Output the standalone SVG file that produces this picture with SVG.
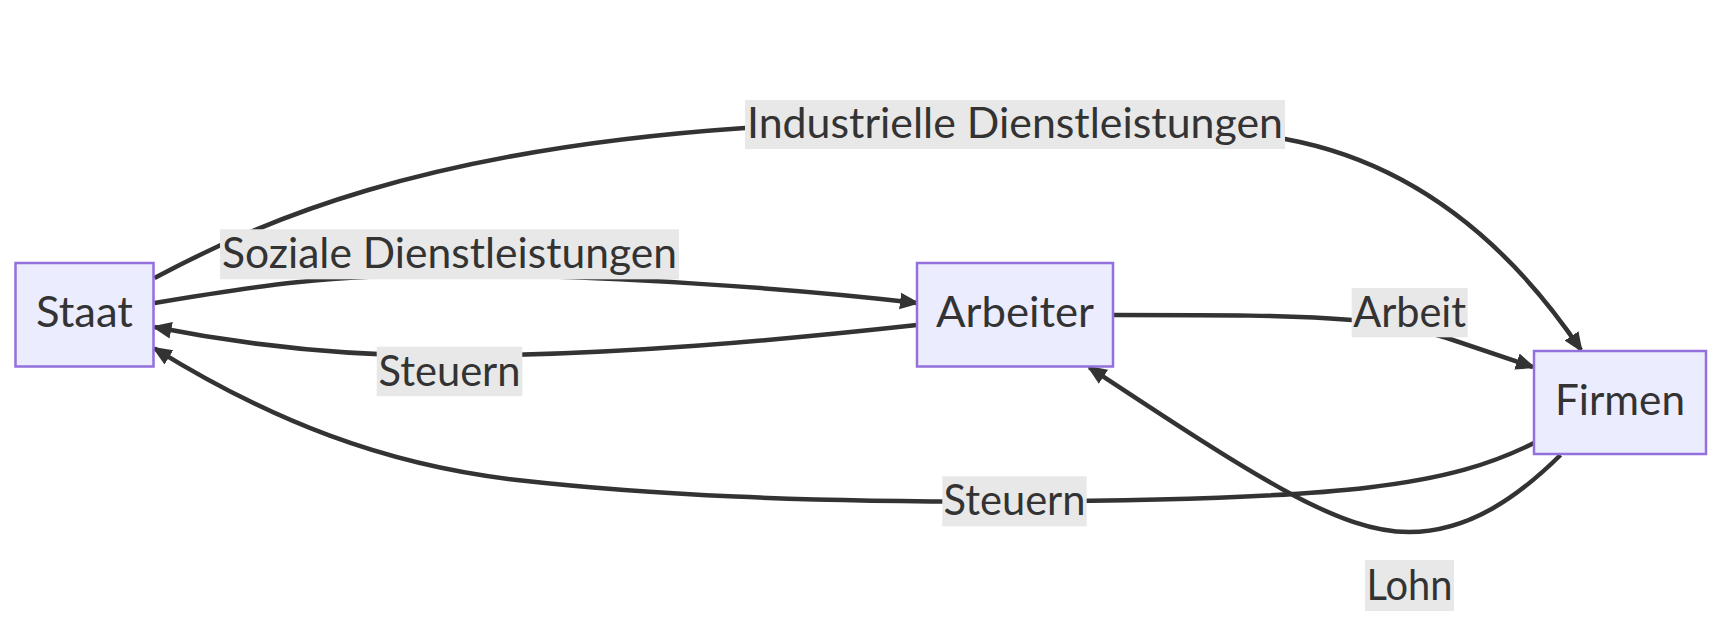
<svg xmlns="http://www.w3.org/2000/svg" width="1732" height="634" viewBox="0 0 1732 634">
  <style>
    .edge { fill: none; stroke: #333333; stroke-width: 4.5; stroke-linecap: butt; marker-end: url(#arrow); }
    .node rect { fill: #ECECFF; stroke: #9370DB; stroke-width: 2.5; }
    .lbl rect { fill: #e8e8e8; stroke: none; }
    text { font-family: "Lato", "Open Sans", "DejaVu Sans", sans-serif; font-size: 42px; fill: #333333; text-anchor: middle; }
  </style>
  <defs>
    <marker id="arrow" viewBox="0 0 10 10" refX="8.5" refY="5" markerUnits="userSpaceOnUse" markerWidth="20" markerHeight="20" orient="auto">
      <path d="M0,0.8 L10,5 L0,9.2 z" fill="#333333"/>
    </marker>
  </defs>
  <rect x="0" y="0" width="1732" height="634" fill="#ffffff"/>

  <g id="connectors">
    <path id="e-staat-firmen" class="edge" d="M154.5,278 C260,222 420,150 745,128 C900,120 1150,125 1285,139 C1400,160 1500,230 1581,350"/>
    <path id="e-staat-arbeiter" class="edge" d="M154.5,303 C260,285 330,275 449,275 C600,275 790,288 917,303"/>
    <path id="e-arbeiter-staat" class="edge" d="M917,325 C780,340 620,355 449,356 C330,356 230,342 154.5,327"/>
    <path id="e-firmen-staat" class="edge" d="M1534,443 C1450,485 1350,500 1015,501.5 C800,502 650,495 517,480 C384,465 270,420 154.5,348.3"/>
    <path id="e-arbeiter-firmen" class="edge" d="M1113,315 C1220,315 1290,315 1352,320 C1395,324 1420,330 1447,338 L1533,367"/>
    <path id="e-firmen-arbeiter" class="edge" d="M1560.5,455 C1520,495 1470,532 1409,532 C1340,532 1260,480 1089.3,367.3"/>
  </g>

  <g id="edge-labels">
    <g id="lbl-industrielle" class="lbl">
      <rect x="745" y="100" width="540" height="49"/>
      <text x="1015" y="138.3" textLength="536" lengthAdjust="spacingAndGlyphs">Industrielle Dienstleistungen</text>
    </g>
    <g id="lbl-soziale" class="lbl">
      <rect x="220" y="229.3" width="459" height="50"/>
      <text x="449.5" y="268" textLength="455" lengthAdjust="spacingAndGlyphs">Soziale Dienstleistungen</text>
    </g>
    <g id="lbl-steuern1" class="lbl">
      <rect x="376.7" y="346.7" width="145.6" height="49.5"/>
      <text x="449.5" y="386" textLength="142" lengthAdjust="spacingAndGlyphs">Steuern</text>
    </g>
    <g id="lbl-arbeit" class="lbl">
      <rect x="1351.7" y="288" width="116" height="49.3"/>
      <text x="1409.7" y="326.5" textLength="113" lengthAdjust="spacingAndGlyphs">Arbeit</text>
    </g>
    <g id="lbl-steuern2" class="lbl">
      <rect x="942.3" y="476.3" width="144.4" height="50"/>
      <text x="1014.5" y="514.7" textLength="142" lengthAdjust="spacingAndGlyphs">Steuern</text>
    </g>
    <g id="lbl-lohn" class="lbl">
      <rect x="1365" y="560" width="89" height="51"/>
      <text x="1409.5" y="599.5" textLength="86" lengthAdjust="spacingAndGlyphs">Lohn</text>
    </g>
  </g>

  <g id="node-Staat" class="node">
    <rect x="15.5" y="263" width="138" height="103.5"/>
    <text x="84.5" y="326.7" textLength="97" lengthAdjust="spacingAndGlyphs">Staat</text>
  </g>
  <g id="node-Arbeiter" class="node">
    <rect x="917" y="263" width="196" height="103.5"/>
    <text x="1015" y="327.3" textLength="158" lengthAdjust="spacingAndGlyphs">Arbeiter</text>
  </g>
  <g id="node-Firmen" class="node">
    <rect x="1534" y="351" width="172" height="103"/>
    <text x="1620" y="415" textLength="130" lengthAdjust="spacingAndGlyphs">Firmen</text>
  </g>
</svg>
